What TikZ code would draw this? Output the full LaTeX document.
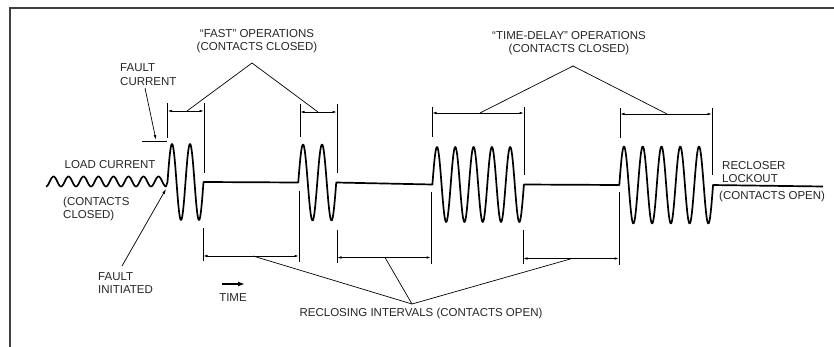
\documentclass[tikz,border=0pt]{standalone}
\usepackage{fontspec}
\setmainfont{Liberation Sans}
\usetikzlibrary{arrows.meta}
\begin{document}
\begin{tikzpicture}[x=1pt,y=-1pt,
  lbl/.style={font=\fontsize{11.5}{13}\selectfont, inner sep=0pt, text=black!85},
  wave/.style={line width=1.7pt, line join=round},
  ext/.style={line width=0.8pt},
  dimline/.style={line width=0.8pt, {Latex[length=4.5pt,width=2.6pt]}-{Latex[length=4.5pt,width=2.6pt]}},
  lead/.style={line width=0.7pt},
  leadarrow/.style={line width=0.7pt, -{Latex[length=5pt,width=2.8pt]}},
  frameline/.style={line width=1.6pt, draw=black!75}]
\useasboundingbox (0,0) rectangle (834,347);
% frame
\draw[frameline] (10,347) -- (10,8) -- (834,8);
% waveform
\draw[wave]
  plot[domain=0:120,samples=161] ({46+\x},{181.5+5*cos(24*\x)})
  -- plot[domain=0:36,samples=73] ({167.5+\x},{182-38*sin(20*\x)})
  -- plot[domain=0:38,samples=77] ({298.25+\x},{182.5-38*sin(18.947*\x)})
  -- plot[domain=0:91.5,samples=181] ({432.4+\x},{184.5-37.5*sin(19.672*\x)})
  -- plot[domain=0:93.75,samples=186] ({619.3+\x},{185-38.5*sin(19.2*\x)})
  -- (823,186.5);
% upper extension lines
\draw[ext] (167.5,103) -- (167.5,138);
\draw[ext] (204,103) -- (204,173);
\draw[ext] (300,104) -- (300,137);
\draw[ext] (337,104) -- (337,173);
\draw[ext] (432,107) -- (432,137);
\draw[ext] (524,107) -- (524,175);
\draw[ext] (620,108) -- (620,138);
\draw[ext] (712,108) -- (712,175);
% lower extension lines
\draw[ext] (203,228) -- (203,261);
\draw[ext] (299,191) -- (299,262);
\draw[ext] (337,230) -- (337,263);
\draw[ext] (431,192) -- (431,264);
\draw[ext] (523,230) -- (523,264);
\draw[ext] (619,192) -- (619,265);
% dimension lines
\coordinate (f1l) at (167.5,111); \coordinate (f1r) at (204,111);
\coordinate (f2l) at (300,112);   \coordinate (f2r) at (337,112);
\coordinate (t1l) at (432,113);   \coordinate (t1r) at (524,113);
\coordinate (t2l) at (620,114);   \coordinate (t2r) at (712,114);
\coordinate (r1l) at (203,256);   \coordinate (r1r) at (299,256);
\coordinate (r2l) at (337,257.5); \coordinate (r2r) at (431,257.5);
\coordinate (r3l) at (523,258.5); \coordinate (r3r) at (619,258.5);
\draw[dimline] (f1l) -- (f1r);
\draw[dimline] (f2l) -- (f2r);
\draw[dimline] (t1l) -- (t1r);
\draw[dimline] (t2l) -- (t2r);
\draw[dimline] (r1l) -- (r1r);
\draw[dimline] (r2l) -- (r2r);
\draw[dimline] (r3l) -- (r3r);
% labels
\node[lbl, align=center, anchor=north] (fastlbl) at (257,29.5) {``FAST'' OPERATIONS\\(CONTACTS CLOSED)};
\node[lbl, align=center, anchor=north] (tdlbl) at (569,31) {``TIME-DELAY'' OPERATIONS\\(CONTACTS CLOSED)};
\node[lbl, align=left, anchor=north west, font=\fontsize{11.5}{14}\selectfont] (fcur) at (120,63) {FAULT\\CURRENT};
\node[lbl] (load) at (110,164.5) {LOAD CURRENT};
\node[lbl, align=left, anchor=north west] (closed) at (63,196.5) {(CONTACTS\\CLOSED)};
\node[lbl, align=left, anchor=north west] (finit) at (98,272) {FAULT\\INITIATED};
\node[lbl] (timelbl) at (233,297.5) {TIME};
\node[lbl] (reclose) at (421,313.5) {RECLOSING INTERVALS (CONTACTS OPEN)};
\node[lbl, align=left, anchor=north west] (lockout) at (722,161.5) {RECLOSER\\LOCKOUT};
\node[lbl, anchor=west] (openlbl) at (719,197) {(CONTACTS OPEN)};
% leaders
\coordinate (fastapex) at (252,63);
\coordinate (tdapex) at (573,66);
\coordinate (rjunc) at (412,304);
\draw[lead] (187,111) -- (fastapex) -- (318,112);
\draw[lead] (480,113) -- (tdapex) -- (667,114);
\draw[lead] (253,256) -- (rjunc) -- (572,258.5);
\draw[lead] (385,257.5) -- (rjunc);
% fault current level and leaders
\coordinate (fcurtip) at (156,140);
\coordinate (fcurtail) at (145,88);
\draw[ext] (142,141) -- (167,141);
\draw[leadarrow] (fcurtail) -- (fcurtip);
\coordinate (finittail) at (122,266);
\coordinate (finittip) at (166,189);
\draw[leadarrow] (finittail) -- (finittip);
% time arrow
\coordinate (ta) at (222,284); \coordinate (tb) at (245,284);
\draw[line width=1.5pt, -{Latex[length=7pt,width=5pt]}] (ta) -- (tb);
\end{tikzpicture}
\end{document}
